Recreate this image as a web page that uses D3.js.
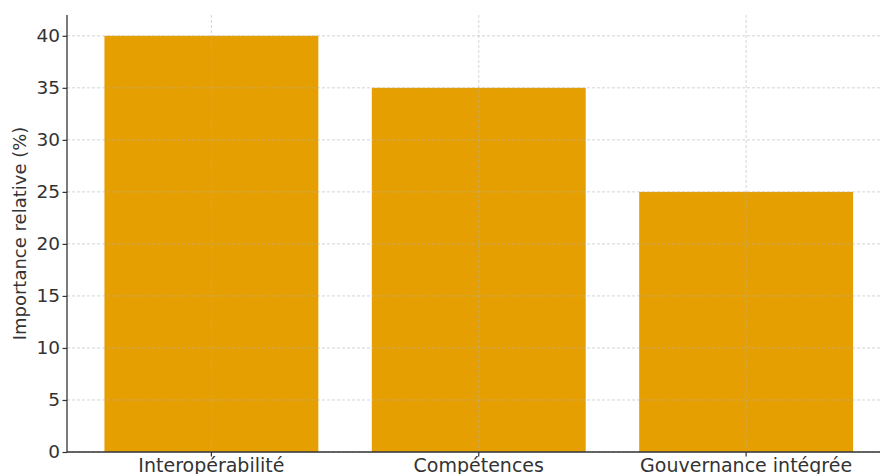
<!DOCTYPE html>
<html>
<head>
<meta charset="utf-8">
<script src="https://cdn.jsdelivr.net/npm/d3@7"></script>
<style>
  body { margin: 0; background: #fff; }
  svg { display: block; font-family: "DejaVu Sans", sans-serif; }
</style>
</head>
<body>
<svg id="chart"></svg>
<script>
let categories = ['Interopérabilité', 'Compétences', 'Gouvernance intégrée'];
let values = [40, 35, 25];
let yTicks = [0, 5, 10, 15, 20, 25, 30, 35, 40];

let width = 880;
let height = 474;
let plotLeft = 67;
let plotRight = 890.5;
let plotTop = 15;
let plotBottom = 452;

let svg = d3.select('#chart').attr('width', width).attr('height', height);

let xScale = d3.scaleBand()
  .domain(categories)
  .range([plotLeft, plotRight])
  .paddingInner(0.2)
  .paddingOuter(0.14);

let yScale = d3.scaleLinear()
  .domain([0, 42])
  .range([plotBottom, plotTop]);

// bars
svg.append('g').selectAll('rect')
  .data(values)
  .enter()
  .append('rect')
  .attr('x', (d, i) => xScale(categories[i]))
  .attr('y', d => yScale(d))
  .attr('width', xScale.bandwidth())
  .attr('height', d => yScale(0) - yScale(d))
  .attr('fill', '#E69F00');

// grid (drawn over the bars, like the original)
let grid = svg.append('g')
  .attr('stroke', '#b0b0b0')
  .attr('stroke-opacity', 0.6)
  .attr('stroke-width', 0.9)
  .attr('stroke-dasharray', '3,2');

grid.selectAll('.hgrid')
  .data(yTicks)
  .enter()
  .append('line')
  .attr('x1', plotLeft)
  .attr('x2', plotRight)
  .attr('y1', d => yScale(d))
  .attr('y2', d => yScale(d));

grid.selectAll('.vgrid')
  .data(categories)
  .enter()
  .append('line')
  .attr('x1', d => xScale(d) + xScale.bandwidth() / 2)
  .attr('x2', d => xScale(d) + xScale.bandwidth() / 2)
  .attr('y1', plotTop)
  .attr('y2', plotBottom);

// axes
let yAxis = d3.axisLeft(yScale).tickValues(yTicks).tickSize(4.5).tickPadding(2.5);
let gy = svg.append('g')
  .attr('transform', 'translate(' + plotLeft + ',0)')
  .call(yAxis);

let xAxis = d3.axisBottom(xScale).tickSize(4.5).tickPadding(2.5);
let gx = svg.append('g')
  .attr('transform', 'translate(0,' + plotBottom + ')')
  .call(xAxis);

[gy, gx].forEach(g => {
  g.select('.domain').attr('stroke', '#333').attr('stroke-width', 1.3);
  g.selectAll('.tick line').attr('stroke', '#333').attr('stroke-width', 1.2);
  g.selectAll('.tick text')
    .attr('fill', '#333')
    .style('font-family', '"DejaVu Sans", sans-serif');
});
gy.selectAll('.tick text').style('font-size', '18.5px');
gx.selectAll('.tick text').style('font-size', '19px');
gy.select('.domain').attr('d', 'M0,' + plotTop + 'V' + plotBottom);
gx.select('.domain').attr('d', 'M' + plotLeft + ',0H' + plotRight);

// y label
svg.append('text')
  .attr('transform', 'translate(26,' + ((plotTop + plotBottom) / 2) + ') rotate(-90)')
  .attr('text-anchor', 'middle')
  .attr('fill', '#333')
  .style('font-size', '18px')
  .text('Importance relative (%)');
</script>
</body>
</html>
